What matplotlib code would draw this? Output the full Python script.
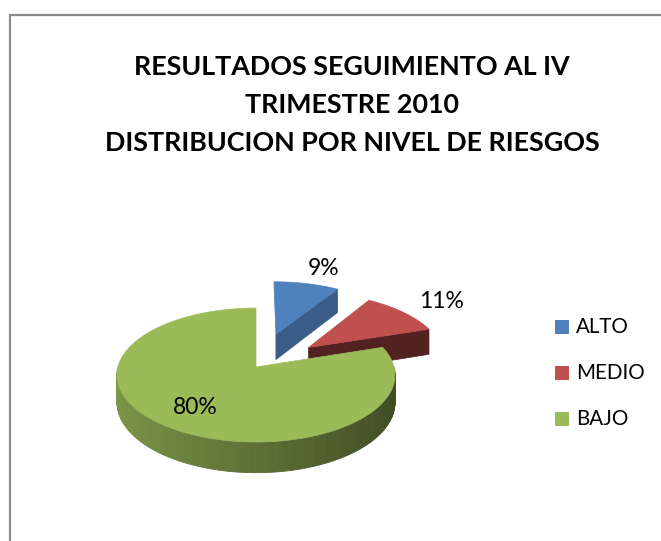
"""3D exploded pie: risk level distribution, Q4 2010 follow-up."""
import numpy as np
import matplotlib
matplotlib.use("Agg")
import matplotlib.pyplot as plt
from matplotlib.colors import to_rgb
from matplotlib.patches import Polygon, Rectangle

TITLE = ("RESULTADOS SEGUIMIENTO AL IV\nTRIMESTRE 2010\n"
         "DISTRIBUCION POR NIVEL DE RIESGOS")
labels = ["ALTO", "MEDIO", "BAJO"]
values = [9, 11, 80]
colors = ["#4F81BD", "#C0504D", "#9BBB59"]
explode = [0.55, 0.5, 0.0]
side_shade = [0.72, 0.42, 0.55]

# pseudo-3D geometry (pixels)
CX, CY, RX, RY, DEPTH, PERSP = 256, 367, 138, 66, 27, 0.12

plt.rcParams["font.family"] = ["Lato", "DejaVu Sans"]


def proj(u, v, z):
    s = 1.0 / (1.0 + PERSP * v)
    return CX + RX * u * s, CY - RY * v * s + DEPTH * (1 - z) * s


def shade(c, f):
    r, g, b = to_rgb(c)
    return (r * f, g * f, b * f)


fig = plt.figure(figsize=(6.61, 5.41), dpi=100)
ax = fig.add_axes([0, 0, 1, 1])
ax.set_xlim(0, 661)
ax.set_ylim(541, 0)
ax.axis("off")

# chart frame
ax.plot([10, 10, 661], [541, 15, 15], color="#8c8c8c", lw=1.6,
        solid_joinstyle="miter")

ax.text(352, 105, TITLE, ha="center", va="center", fontsize=19.4,
        fontweight="bold", linespacing=1.68, color="black")

total = float(sum(values))
bounds = np.concatenate([[0], np.cumsum(values)]) / total * 2 * np.pi

for i, (val, col, e) in enumerate(zip(values, colors, explode)):
    a, b = bounds[i], bounds[i + 1]
    mid = (a + b) / 2
    ou, ov = e * np.sin(mid), e * np.cos(mid)
    ts = np.linspace(a, b, max(int((b - a) / 0.02), 8))

    # radial faces that face the viewer
    for t, nrm in ((a, a - np.pi / 2), (b, b + np.pi / 2)):
        if np.cos(nrm) < -1e-6:
            pts = [proj(ou, ov, 1), proj(ou + np.sin(t), ov + np.cos(t), 1),
                   proj(ou + np.sin(t), ov + np.cos(t), 0), proj(ou, ov, 0)]
            c = shade(col, side_shade[i])
            ax.add_patch(Polygon(pts, closed=True, fc=c, ec=c, lw=0.5))

    # outer wall, front half only, darker toward the right
    for t1, t2 in zip(ts[:-1], ts[1:]):
        tm = (t1 + t2) / 2
        if np.cos(tm) >= 0:
            continue
        p1 = (ou + np.sin(t1), ov + np.cos(t1))
        p2 = (ou + np.sin(t2), ov + np.cos(t2))
        pts = [proj(*p1, 1), proj(*p2, 1), proj(*p2, 0), proj(*p1, 0)]
        c = shade(col, 0.8 - 0.4 * (np.sin(tm) + 1) / 2)
        ax.add_patch(Polygon(pts, closed=True, fc=c, ec=c, lw=0.6))

    # top face
    pts = [proj(ou, ov, 1)] + [proj(ou + np.sin(t), ov + np.cos(t), 1)
                               for t in ts]
    ax.add_patch(Polygon(pts, closed=True, fc=col, ec=col, lw=0.5))

    # percentage label
    r = 1.35 if e > 0 else 0.7
    lx, ly = proj(ou + r * np.sin(mid), ov + r * np.cos(mid), 1)
    ax.text(lx + (8 if e > 0 else 0), ly, f"{val}%", ha="center",
            va="center", fontsize=16.5, color="black")

# legend
for i, (lab, col) in enumerate(zip(labels, colors)):
    y = 327 + 46 * i
    ax.add_patch(Rectangle((555, y - 7), 14, 14, fc=col, ec="none"))
    ax.text(576, y, lab, ha="left", va="center", fontsize=14.8,
            color="black")

fig.savefig("out.png", dpi=100)
